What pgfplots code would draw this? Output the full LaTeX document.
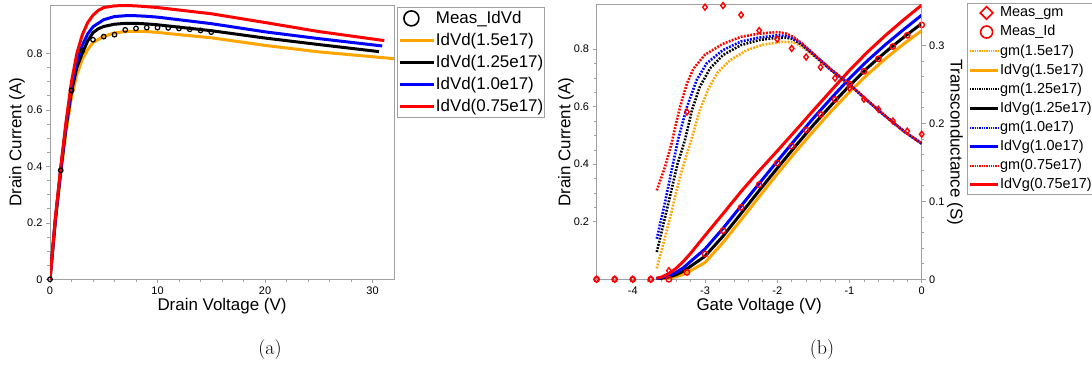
\documentclass[border=0pt]{standalone}
\usepackage{fontspec}
\usepackage{pgfplots}
\pgfplotsset{compat=1.18}
\newfontfamily\arial{Liberation Sans}
\definecolor{myorange}{HTML}{FFA500}
\definecolor{myblue}{HTML}{0000FF}
\definecolor{myred}{HTML}{FF0000}
\definecolor{axgray}{HTML}{A0A0A0}
\begin{document}
\begin{tikzpicture}[x=1bp,y=1bp]
\useasboundingbox (0,0) rectangle (1092,367);
\pgfplotsset{
  common/.style={
    scale only axis,
    font=\arial\fontsize{11}{13}\selectfont,
    /pgf/number format/assume math mode=true,
    tick align=outside,
    major tick length=4bp,
    minor tick length=2.5bp,
    axis line style={axgray, line width=0.8bp},
    every tick/.style={axgray, line width=0.6bp},
    label style={font=\arial\fontsize{17}{20}\selectfont},
  },
  sol/.style={line width=3bp, line join=round},
  dot/.style={line width=2.6bp, dash pattern=on 1.8bp off 1.4bp},
}
% ---------------- (a) ----------------
\begin{axis}[common, at={(50bp,87.7bp)}, anchor=south west,
  width=344bp, height=274.3bp,
  xmin=0, xmax=32, ymin=0, ymax=0.971,
  xtick={0,10,20,30}, ytick={0,0.2,0.4,0.6,0.8},
  minor x tick num=4, minor y tick num=3,
  xtick pos=bottom, ytick pos=left,
  xlabel={Drain Voltage (V)}, ylabel={Drain Current (A)},
  xlabel style={at={(axis description cs:0.5,-0.112)}, anchor=base},
  ylabel style={at={(axis description cs:-0.096,0.5)}, anchor=center},
  legend style={at={(axis description cs:1.0087,0.9927)}, anchor=north west,
    draw=axgray, line width=0.8bp, fill=white, inner xsep=1bp, inner ysep=0bp,
    row sep=0bp, column sep=0bp, font=\arial\fontsize{17}{20}\selectfont,
    nodes={inner xsep=0.5bp, inner ysep=0bp, text height=16bp, text depth=6bp}},
  legend cell align=left,
]
\addplot[sol, myorange, forget plot] coordinates {(0,0) (0.5,0.205) (1,0.375) (1.5,0.525) (2,0.645) (2.5,0.725) (3,0.778) (3.5,0.813) (4,0.838) (5,0.86) (6,0.872) (7,0.877) (8,0.878) (9,0.877) (10,0.874) (12,0.866) (15,0.855) (20,0.828) (25,0.805) (32,0.781)};
\addplot[sol, black, forget plot] coordinates {(0,0) (0.5,0.21) (1,0.385) (1.5,0.54) (2,0.665) (2.5,0.75) (3,0.80) (3.5,0.843) (4,0.873) (4.5,0.887) (5,0.895) (6,0.903) (7,0.906) (8,0.906) (9,0.904) (10,0.901) (15,0.88) (20,0.854) (25,0.831) (30.6,0.806)};
\addplot[sol, myblue, forget plot] coordinates {(0,0) (0.5,0.213) (1,0.39) (1.5,0.55) (2,0.68) (2.5,0.77) (3,0.828) (3.5,0.868) (4,0.894) (5,0.919) (6,0.93) (7,0.933) (8,0.933) (9,0.931) (10,0.928) (15,0.905) (20,0.876) (25,0.852) (30.9,0.826)};
\addplot[sol, myred, forget plot] coordinates {(0,0) (0.5,0.218) (1,0.398) (1.5,0.56) (2,0.70) (2.5,0.80) (3,0.865) (3.5,0.908) (4,0.935) (4.5,0.952) (5,0.962) (6,0.968) (7,0.969) (8,0.968) (9,0.965) (10,0.962) (15,0.94) (20,0.909) (25,0.877) (31.1,0.845)};
\addplot[only marks, mark=o, mark size=2.3bp, black, mark options={line width=1.2bp}, forget plot] coordinates {(0,0) (1,0.386) (2,0.669) (3,0.809) (4,0.848) (5,0.859) (6,0.866) (7,0.883) (8,0.888) (9,0.891) (10,0.891) (11,0.890) (12,0.888) (13,0.885) (14,0.881) (15,0.875)};
\addlegendimage{legend image code/.code={\path[draw=none] (0,0) -- (34bp,0); \draw[black,line width=1.6bp] (11.5bp,0) circle (7.5bp);}}
\addlegendentry{Meas\_IdVd}
\addlegendimage{legend image code/.code={\draw[myorange,line width=3bp] (0,0) -- (34bp,0);}}
\addlegendentry{IdVd(1.5e17)}
\addlegendimage{legend image code/.code={\draw[black,line width=3bp] (0,0) -- (34bp,0);}}
\addlegendentry{IdVd(1.25e17)}
\addlegendimage{legend image code/.code={\draw[myblue,line width=3bp] (0,0) -- (34bp,0);}}
\addlegendentry{IdVd(1.0e17)}
\addlegendimage{legend image code/.code={\draw[myred,line width=3bp] (0,0) -- (34bp,0);}}
\addlegendentry{IdVd(0.75e17)}
\end{axis}
% ---------------- (b) Id ----------------
\begin{axis}[common, at={(596.6bp,87.7bp)}, anchor=south west,
  width=325.1bp, height=274.5bp,
  xmin=-4.5, xmax=0, ymin=0, ymax=0.954,
  xtick={-4,-3,-2,-1,0}, xticklabels={-4,-3,-2,-1,0},
  ytick={0.2,0.4,0.6,0.8},
  minor x tick num=4, minor y tick num=3,
  xtick pos=bottom, ytick pos=left,
  xlabel={Gate Voltage (V)}, ylabel={Drain Current (A)},
  xlabel style={at={(axis description cs:0.5,-0.112)}, anchor=base},
  ylabel style={at={(axis description cs:-0.094,0.5)}, anchor=center},
]
\addplot[sol, myorange] coordinates {(-3.67,0) (-3.5,0.004) (-3.4,0.009) (-3.3,0.017) (-3.2,0.03) (-3.0,0.058) (-2.75,0.128) (-2.5,0.207) (-2.25,0.287) (-2.0,0.366) (-1.75,0.442) (-1.5,0.515) (-1.25,0.585) (-1.0,0.651) (-0.75,0.712) (-0.5,0.767) (-0.25,0.818) (0,0.864)};
\addplot[sol, black] coordinates {(-3.67,0.001) (-3.5,0.008) (-3.4,0.016) (-3.3,0.028) (-3.2,0.045) (-3.0,0.08) (-2.75,0.15) (-2.5,0.229) (-2.25,0.308) (-2.0,0.386) (-1.75,0.462) (-1.5,0.536) (-1.25,0.606) (-1.0,0.673) (-0.75,0.735) (-0.5,0.79) (-0.25,0.841) (0,0.889)};
\addplot[sol, myblue] coordinates {(-3.67,0.002) (-3.5,0.012) (-3.4,0.024) (-3.3,0.04) (-3.2,0.062) (-3.0,0.105) (-2.75,0.177) (-2.5,0.255) (-2.25,0.333) (-2.0,0.41) (-1.75,0.486) (-1.5,0.56) (-1.25,0.63) (-1.0,0.698) (-0.75,0.76) (-0.5,0.816) (-0.25,0.868) (0,0.918)};
\addplot[sol, myred] coordinates {(-3.67,0.004) (-3.6,0.008) (-3.5,0.02) (-3.4,0.038) (-3.3,0.062) (-3.2,0.09) (-3.0,0.152) (-2.75,0.228) (-2.5,0.305) (-2.25,0.377) (-2.0,0.446) (-1.75,0.516) (-1.5,0.587) (-1.25,0.657) (-1.0,0.726) (-0.75,0.79) (-0.5,0.848) (-0.25,0.902) (0,0.953)};
\addplot[only marks, mark=o, mark size=2.7bp, myred, mark options={line width=1.4bp}] coordinates {(-4.5,0) (-4.25,0) (-4.0,0) (-3.75,0) (-3.5,0) (-3.25,0.024) (-3.0,0.088) (-2.75,0.169) (-2.5,0.25) (-2.25,0.329) (-2.0,0.404) (-1.8,0.463) (-1.6,0.519) (-1.4,0.573) (-1.2,0.625) (-1.0,0.679) (-0.8,0.723) (-0.6,0.766) (-0.4,0.809) (-0.2,0.848) (0,0.884)};
\end{axis}
% ---------------- (b) gm ----------------
\begin{axis}[common, at={(596.6bp,87.7bp)}, anchor=south west,
  width=325.1bp, height=274.5bp,
  xmin=-4.5, xmax=0, ymin=0, ymax=0.352,
  axis x line=none, axis y line*=right,
  ytick={0,0.1,0.2,0.3}, minor y tick num=4,
  ylabel={Transconductance (S)},
  ylabel style={at={(axis description cs:1.1025,0.5)}, anchor=center, rotate=180},
  legend style={at={(axis description cs:1.1384,1.0066)}, anchor=north west,
    draw=axgray, line width=0.8bp, fill=white, inner xsep=1.5bp, inner ysep=0bp,
    row sep=0bp, column sep=0bp, font=\arial\fontsize{14.5}{17}\selectfont,
    nodes={inner xsep=0.5bp, inner ysep=0bp, text height=13.5bp, text depth=5.6bp}},
  legend cell align=left,
]
\addplot[dot, myorange, forget plot] coordinates {(-3.667,0.014) (-3.5,0.073) (-3.35,0.13) (-3.19,0.179) (-3.07,0.217) (-2.95,0.245) (-2.82,0.266) (-2.65,0.281) (-2.42,0.294) (-2.19,0.301) (-1.92,0.3046) (-1.78,0.304) (-1.65,0.298) (-1.5,0.287) (-1.25,0.268) (-1.0,0.25) (-0.75,0.229) (-0.5,0.209) (-0.25,0.19) (0,0.174)};
\addplot[dot, black, forget plot] coordinates {(-3.667,0.035) (-3.5,0.10) (-3.38,0.148) (-3.276,0.179) (-3.18,0.217) (-3.07,0.247) (-2.93,0.2705) (-2.75,0.2876) (-2.5,0.3004) (-2.25,0.3068) (-2.0,0.3098) (-1.87,0.3098) (-1.78,0.308) (-1.65,0.3) (-1.5,0.288) (-1.25,0.268) (-1.0,0.25) (-0.75,0.229) (-0.5,0.209) (-0.25,0.19) (0,0.174)};
\addplot[dot, myblue, forget plot] coordinates {(-3.667,0.052) (-3.55,0.10) (-3.45,0.145) (-3.37,0.18) (-3.25,0.221) (-3.115,0.2555) (-2.976,0.277) (-2.75,0.294) (-2.5,0.305) (-2.25,0.310) (-2.0,0.3128) (-1.87,0.312) (-1.78,0.309) (-1.65,0.301) (-1.5,0.289) (-1.25,0.268) (-1.0,0.25) (-0.75,0.229) (-0.5,0.209) (-0.25,0.19) (0,0.174)};
\addplot[dot, myred, forget plot] coordinates {(-3.667,0.114) (-3.55,0.145) (-3.46,0.175) (-3.40,0.20) (-3.345,0.221) (-3.25,0.251) (-3.16,0.27) (-3.0,0.288) (-2.75,0.302) (-2.5,0.311) (-2.25,0.315) (-2.0,0.317) (-1.87,0.315) (-1.78,0.311) (-1.65,0.302) (-1.5,0.289) (-1.25,0.269) (-1.0,0.25) (-0.75,0.229) (-0.5,0.209) (-0.25,0.19) (0,0.174)};
\addplot[only marks, mark=diamond, mark size=3bp, myred, mark options={line width=1.4bp}, forget plot] coordinates {(-4.5,0) (-4.25,0) (-4.0,0) (-3.75,0) (-3.5,0.011) (-3.25,0.2145) (-3.0,0.349) (-2.75,0.351) (-2.5,0.339) (-2.25,0.319) (-2.0,0.308) (-1.8,0.296) (-1.6,0.285) (-1.4,0.272) (-1.2,0.258) (-1.0,0.245) (-0.8,0.231) (-0.6,0.218) (-0.4,0.203) (-0.2,0.19) (0,0.186)};
\addlegendimage{legend image code/.code={\path[draw=none] (0,0) -- (28bp,0); \draw[myred,line width=1.6bp] (16.5bp,6.3bp) -- (22.8bp,0) -- (16.5bp,-6.3bp) -- (10.2bp,0) -- cycle;}}
\addlegendentry{Meas\_gm}
\addlegendimage{legend image code/.code={\path[draw=none] (0,0) -- (28bp,0); \draw[myred,line width=1.6bp] (16.5bp,0) circle (6bp);}}
\addlegendentry{Meas\_Id}
\addlegendimage{legend image code/.code={\draw[myorange,line width=2bp,dash pattern=on 1.3bp off 1bp] (0,0) -- (28bp,0);}}
\addlegendentry{gm(1.5e17)}
\addlegendimage{legend image code/.code={\draw[myorange,line width=3bp] (0,0) -- (28bp,0);}}
\addlegendentry{IdVg(1.5e17)}
\addlegendimage{legend image code/.code={\draw[black,line width=2bp,dash pattern=on 1.3bp off 1bp] (0,0) -- (28bp,0);}}
\addlegendentry{gm(1.25e17)}
\addlegendimage{legend image code/.code={\draw[black,line width=3bp] (0,0) -- (28bp,0);}}
\addlegendentry{IdVg(1.25e17)}
\addlegendimage{legend image code/.code={\draw[myblue,line width=2bp,dash pattern=on 1.3bp off 1bp] (0,0) -- (28bp,0);}}
\addlegendentry{gm(1.0e17)}
\addlegendimage{legend image code/.code={\draw[myblue,line width=3bp] (0,0) -- (28bp,0);}}
\addlegendentry{IdVg(1.0e17)}
\addlegendimage{legend image code/.code={\draw[myred,line width=2bp,dash pattern=on 1.3bp off 1bp] (0,0) -- (28bp,0);}}
\addlegendentry{gm(0.75e17)}
\addlegendimage{legend image code/.code={\draw[myred,line width=3bp] (0,0) -- (28bp,0);}}
\addlegendentry{IdVg(0.75e17)}
\end{axis}
\node[font=\fontsize{20}{23}\selectfont] at (270bp,17bp) {(a)};
\node[font=\fontsize{20}{23}\selectfont] at (822bp,17bp) {(b)};
\end{tikzpicture}
\end{document}
